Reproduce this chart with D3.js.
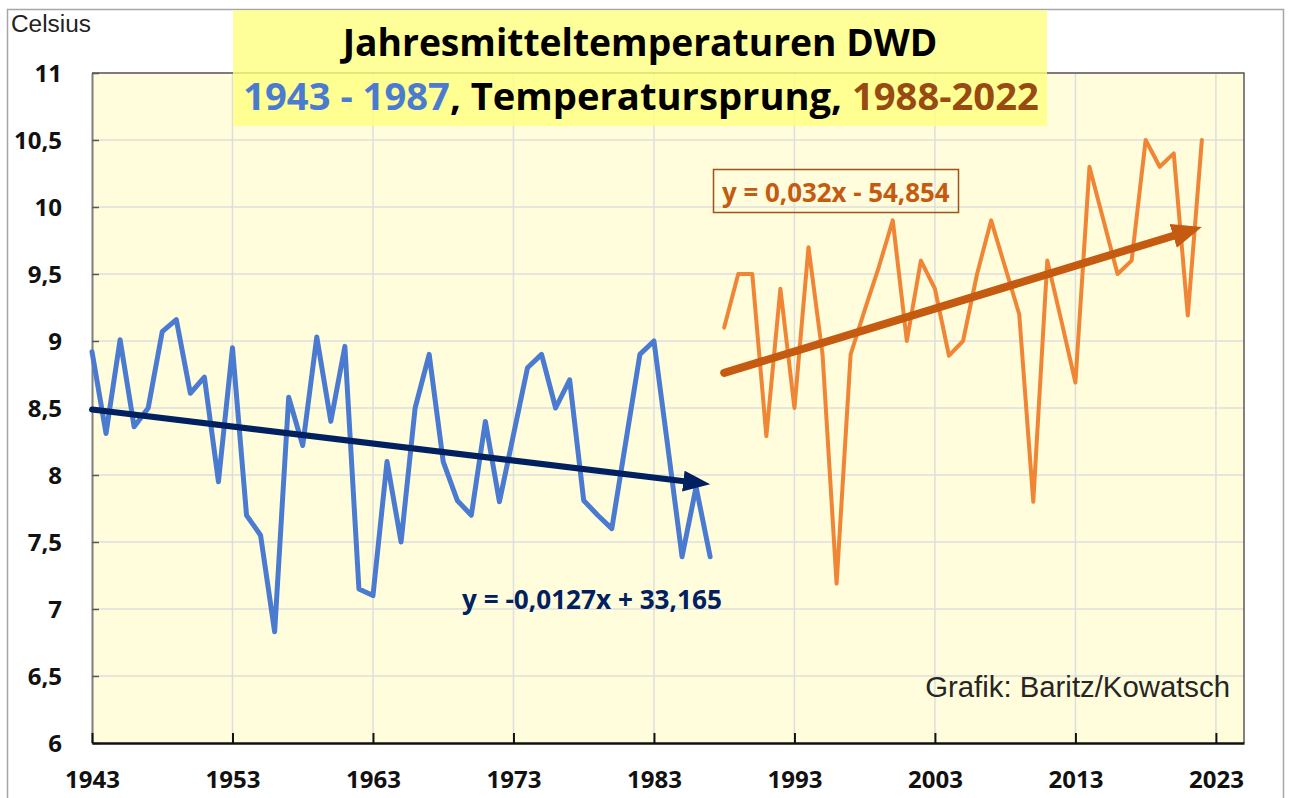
<!DOCTYPE html>
<html>
<head>
<meta charset="utf-8">
<script src="https://cdn.jsdelivr.net/npm/d3@7"></script>
<style>
  body { margin: 0; background: #fff; }
  text { font-family: "Open Sans", "Liberation Sans", sans-serif; }
</style>
</head>
<body>
<script>
var width = 1291;
var height = 798;

var margin = {top: 73, left: 92, right: 47, bottom: 55};

// Jahresmittel, Deutschland (DWD)
var blueStart = 1943;
var blueValues = [8.92, 8.31, 9.01, 8.36, 8.5, 9.07, 9.16, 8.61, 8.73, 7.95,
                  8.95, 7.70, 7.55, 6.83, 8.58, 8.22, 9.03, 8.40, 8.96, 7.15,
                  7.10, 8.10, 7.50, 8.50, 8.90, 8.10, 7.81, 7.70, 8.40, 7.80,
                  8.30, 8.80, 8.90, 8.50, 8.71, 7.81, 7.70, 7.60, 8.25, 8.90,
                  9.00, 8.20, 7.39, 7.91, 7.39];

var orangeStart = 1988;
var orangeValues = [9.10, 9.50, 9.50, 8.29, 9.39, 8.50, 9.70, 8.90, 7.19, 8.90,
                    9.23, 9.55, 9.90, 9.00, 9.60, 9.39, 8.89, 9.00, 9.50, 9.90,
                    9.55, 9.20, 7.80, 9.60, 9.15, 8.69, 10.30, 9.90, 9.50, 9.60,
                    10.50, 10.30, 10.40, 9.19, 10.50];

// Trendlinien laut Beschriftung
var blueTrend = {slope: -0.0127, intercept: 33.165, label: "y = -0,0127x + 33,165"};
var orangeTrend = {slope: 0.032, intercept: -54.854, label: "y = 0,032x - 54,854"};

var xTicks = [1943, 1953, 1963, 1973, 1983, 1993, 2003, 2013, 2023];
var yTicks = [6, 6.5, 7, 7.5, 8, 8.5, 9, 9.5, 10, 10.5, 11];

var blueData = blueValues.map(function(v, i) { return {year: blueStart + i, t: v}; });
var orangeData = orangeValues.map(function(v, i) { return {year: orangeStart + i, t: v}; });

var svg = d3.select("body")
  .append("svg")
  .attr("width", width)
  .attr("height", height);

// Rahmen des Diagramms
svg.append("rect")
  .attr("x", 7.5).attr("y", 9.5)
  .attr("width", 1276).attr("height", 800)
  .attr("fill", "#fff")
  .attr("stroke", "#a6a6a6")
  .attr("stroke-width", 1.5);

var xScale = d3.scaleLinear()
  .domain([1943, 2025])
  .range([margin.left, width - margin.right]);

var yScale = d3.scaleLinear()
  .domain([6, 11])
  .range([height - margin.bottom, margin.top]);

var plotW = width - margin.right - margin.left;
var plotH = height - margin.bottom - margin.top;

svg.append("rect")
  .attr("x", margin.left).attr("y", margin.top)
  .attr("width", plotW).attr("height", plotH)
  .attr("fill", "#fffddc");

// Gitternetz
svg.append("g")
  .selectAll("line")
  .data(yTicks.slice(1))
  .enter().append("line")
  .attr("x1", margin.left).attr("x2", width - margin.right)
  .attr("y1", function(d) { return yScale(d); })
  .attr("y2", function(d) { return yScale(d); })
  .attr("stroke", "#dedede").attr("stroke-width", 1.5);

svg.append("g")
  .selectAll("line")
  .data(xTicks.slice(1))
  .enter().append("line")
  .attr("y1", margin.top).attr("y2", height - margin.bottom)
  .attr("x1", function(d) { return xScale(d); })
  .attr("x2", function(d) { return xScale(d); })
  .attr("stroke", "#dedede").attr("stroke-width", 1.5);

// Rand oben / rechts
svg.append("path")
  .attr("d", "M" + margin.left + "," + margin.top + "H" + (width - margin.right) + "V" + (height - margin.bottom))
  .attr("fill", "none")
  .attr("stroke", "#595959")
  .attr("stroke-width", 1.5);

var fmt = function(d) { return String(d).replace(".", ","); };

var yAxis = svg.append("g")
  .attr("transform", "translate(" + margin.left + ",0)")
  .call(d3.axisLeft(yScale).tickValues(yTicks).tickFormat(fmt)
        .tickSizeInner(-7).tickSizeOuter(0).tickPadding(30));
yAxis.select(".domain").attr("stroke", "#7f7f7f").attr("stroke-width", 2);
yAxis.selectAll(".tick line").attr("stroke", "#595959").attr("stroke-width", 1.5);
yAxis.selectAll("text")
  .style("font-size", "24px").style("font-weight", "bold").attr("fill", "#111")
  .attr("dy", "0.36em");

var xAxis = svg.append("g")
  .attr("transform", "translate(0," + (height - margin.bottom) + ")")
  .call(d3.axisBottom(xScale).tickValues(xTicks).tickFormat(d3.format("d"))
        .tickSizeInner(-10).tickSizeOuter(0).tickPadding(28));
xAxis.select(".domain").attr("stroke", "#111").attr("stroke-width", 2.5);
xAxis.selectAll(".tick line").attr("stroke", "#111").attr("stroke-width", 2);
xAxis.selectAll("text")
  .style("font-size", "24px").style("font-weight", "bold").attr("fill", "#111");

// Titelbox (halbtransparent)
svg.append("rect")
  .attr("x", 233).attr("y", 10)
  .attr("width", 814).attr("height", 116)
  .attr("fill", "#ffff80")
  .attr("opacity", 0.8);

function fit(sel, w) {
  var b = sel.node().getBBox().width;
  var fs = parseFloat(sel.style("font-size"));
  sel.style("font-size", (fs * w / b) + "px");
}

var t1 = svg.append("text")
  .attr("x", 640).attr("y", 56)
  .attr("text-anchor", "middle")
  .style("font-size", "34px").style("font-weight", "bold")
  .attr("fill", "#000")
  .text("Jahresmitteltemperaturen DWD");
fit(t1, 598);

var t2 = svg.append("text")
  .attr("x", 641).attr("y", 110)
  .attr("text-anchor", "middle")
  .style("font-size", "34px").style("font-weight", "bold");
t2.append("tspan").attr("fill", "#4a7bd0").text("1943 - 1987");
t2.append("tspan").attr("fill", "#000").text(", Temperatursprung, ");
t2.append("tspan").attr("fill", "#974a12").text("1988-2022");
fit(t2, 796);

var c = svg.append("text")
  .attr("x", 11).attr("y", 32)
  .style("font-family", "'Liberation Sans', Arial, sans-serif")
  .style("font-size", "22px")
  .attr("fill", "#222")
  .text("Celsius");
fit(c, 80);

var line = d3.line()
  .x(function(d) { return xScale(d.year); })
  .y(function(d) { return yScale(d.t); });

svg.append("path")
  .datum(blueData)
  .attr("d", line)
  .attr("fill", "none")
  .attr("stroke", "#4a7bd0")
  .attr("stroke-width", 5)
  .attr("stroke-linejoin", "round")
  .attr("stroke-linecap", "round");

svg.append("path")
  .datum(orangeData)
  .attr("d", line)
  .attr("fill", "none")
  .attr("stroke", "#ef8535")
  .attr("stroke-width", 4)
  .attr("stroke-linejoin", "round")
  .attr("stroke-linecap", "round");

// Trendpfeile
var defs = svg.append("defs");
function arrowMarker(id, color, len, wid) {
  defs.append("marker")
    .attr("id", id)
    .attr("markerUnits", "userSpaceOnUse")
    .attr("viewBox", "0 0 " + len + " " + wid)
    .attr("markerWidth", len).attr("markerHeight", wid)
    .attr("refX", len).attr("refY", wid / 2)
    .attr("orient", "auto")
    .append("path")
    .attr("d", "M0,0L" + len + "," + (wid / 2) + "L0," + wid + "Z")
    .attr("fill", color);
}
arrowMarker("arrBlue", "#002060", 27, 21);
arrowMarker("arrOrange", "#c55a11", 30, 25);

function trendLine(tr, y0, y1, color, w, marker, head) {
  var pts = [y0, y1].map(function(y) { return {year: y, t: tr.slope * y + tr.intercept}; });
  var a = pts[0], b = pts[1];
  var ax = xScale(a.year), ay = yScale(a.t), bx = xScale(b.year), by = yScale(b.t);
  var len = Math.hypot(bx - ax, by - ay);
  var back = head - 3;
  svg.append("line")
    .attr("x1", ax).attr("y1", ay)
    .attr("x2", bx - (bx - ax) / len * back).attr("y2", by - (by - ay) / len * back)
    .attr("stroke", color).attr("stroke-width", w)
    .attr("stroke-linecap", "round");
  svg.append("line")
    .attr("x1", bx - (bx - ax) / len * head).attr("y1", by - (by - ay) / len * head)
    .attr("x2", bx).attr("y2", by)
    .attr("stroke", "none")
    .attr("marker-end", "url(#" + marker + ")");
}
trendLine(blueTrend, 1943, 1987, "#002060", 6, "arrBlue", 27);
trendLine(orangeTrend, 1988, 2022, "#c55a11", 8, "arrOrange", 30);

var e1 = svg.append("text")
  .attr("x", 462).attr("y", 609)
  .style("font-size", "24px").style("font-weight", "bold")
  .attr("fill", "#002060")
  .text(blueTrend.label);
fit(e1, 260);

svg.append("rect")
  .attr("x", 713.5).attr("y", 169.5)
  .attr("width", 245).attr("height", 43)
  .attr("fill", "none")
  .attr("stroke", "#a0521a")
  .attr("stroke-width", 1.5);

var e2 = svg.append("text")
  .attr("x", 722).attr("y", 202)
  .style("font-size", "24px").style("font-weight", "bold")
  .attr("fill", "#c55a11")
  .text(orangeTrend.label);
fit(e2, 228);

var g = svg.append("text")
  .attr("x", 1230).attr("y", 697)
  .attr("text-anchor", "end")
  .style("font-family", "'Liberation Sans', Arial, sans-serif")
  .style("font-size", "24px")
  .attr("fill", "#262626")
  .text("Grafik: Baritz/Kowatsch");
fit(g, 305);
</script>
</body>
</html>
